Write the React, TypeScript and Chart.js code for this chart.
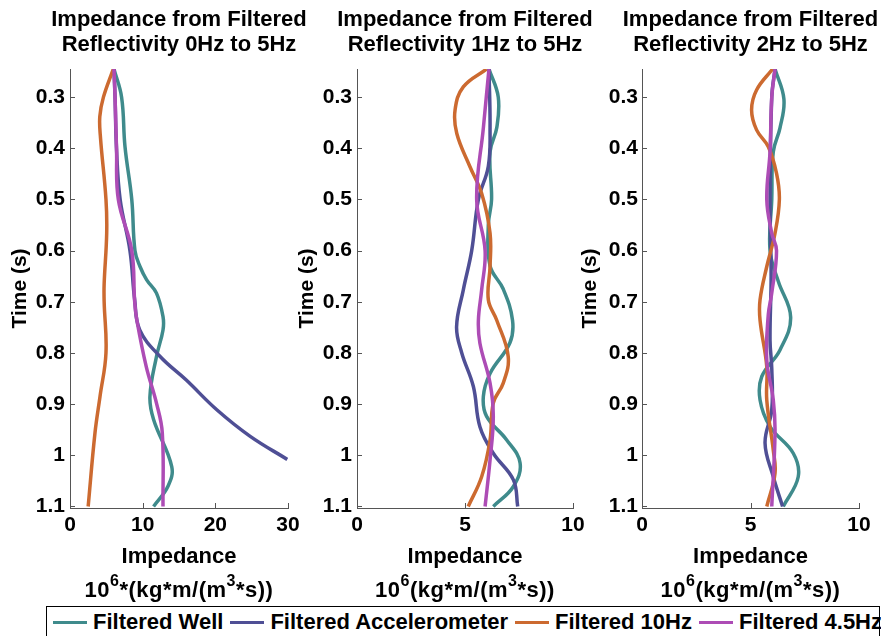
import React, { useEffect, useRef } from "react";
import { Chart, registerables } from "chart.js";

Chart.register(...registerables);

const FONT = '"Liberation Sans", Arial, Helvetica, sans-serif';

const SERIES_NAMES = ["Filtered Well", "Filtered Accelerometer", "Filtered 10Hz", "Filtered 4.5Hz"];
const SERIES_COLORS = ["#3f8b8c", "#4f4f95", "#cc6a30", "#ad4cb5"];

const PANEL_TITLES = [
  ["Impedance from Filtered", "Reflectivity 0Hz to 5Hz"],
  ["Impedance from Filtered", "Reflectivity 1Hz to 5Hz"],
  ["Impedance from Filtered", "Reflectivity 2Hz to 5Hz"],
];
const X_TITLE = "Impedance";
// unit label runs: [text, isSuperscript]
const X_UNIT_P1: [string, boolean][] = [["10", false], ["6", true], ["*(kg*m/(m", false], ["3", true], ["*s))", false]];
const X_UNIT_P23: [string, boolean][] = [["10", false], ["6", true], ["(kg*m/(m", false], ["3", true], ["*s))", false]];
const Y_TITLE = "Time (s)";
const TIME_TICKS = [0.3, 0.4, 0.5, 0.6, 0.7, 0.8, 0.9, 1.0, 1.1];
const X_TICKS_P1 = [0, 10, 20, 30];
const X_TICKS_P23 = [0, 5, 10];
const TIME_MIN = 0.245;
const TIME_MAX = 1.103;

// Panel 1 : 0Hz to 5Hz
const P1_WELL_T = [0.245, 0.3, 0.397, 0.5, 0.6, 0.631, 0.657, 0.683, 0.729, 0.755, 0.807, 0.885, 0.93, 1.022, 1.06, 1.1];
const P1_WELL_V = [6.05, 7.1, 7.57, 8.5, 8.94, 9.63, 10.55, 11.9, 12.8, 12.8, 11.9, 11.0, 11.5, 14.0, 13.5, 11.5];
const P1_ACC_T = [0.245, 0.3, 0.4, 0.5, 0.6, 0.696, 0.755, 0.807, 0.853, 0.911, 0.963, 1.008];
const P1_ACC_V = [6.05, 6.2, 6.4, 6.9, 8.25, 8.9, 9.6, 12.4, 16.0, 20.2, 24.8, 29.9];
const P1_10HZ_T = [0.245, 0.3, 0.338, 0.38, 0.5, 0.566, 0.665, 0.7, 0.8, 0.885, 0.956, 1.1];
const P1_10HZ_V = [5.96, 4.6, 4.1, 4.2, 4.95, 5.05, 4.7, 4.7, 4.95, 4.13, 3.44, 2.5];
const P1_45HZ_T = [0.245, 0.3, 0.4, 0.5, 0.6, 0.7, 0.736, 0.827, 0.898, 0.956, 1.1];
const P1_45HZ_V = [6.05, 6.2, 6.4, 6.65, 8.5, 8.9, 9.2, 10.5, 11.9, 12.7, 12.8];

// Panel 2 : 1Hz to 5Hz
const P2_WELL_T = [0.245, 0.3, 0.36, 0.407, 0.5, 0.55, 0.63, 0.675, 0.736, 0.78, 0.84, 0.885, 0.924, 0.97, 1.015, 1.061, 1.1];
const P2_WELL_V = [6.11, 6.54, 6.47, 6.16, 6.23, 6.08, 6.16, 6.77, 7.2, 7.08, 6.16, 5.85, 6.0, 6.93, 7.55, 7.24, 6.31];
const P2_ACC_T = [0.245, 0.36, 0.435, 0.5, 0.6, 0.677, 0.749, 0.8, 0.866, 0.944, 0.996, 1.048, 1.1];
const P2_ACC_V = [6.11, 6.16, 6.08, 5.62, 5.31, 4.92, 4.61, 4.85, 5.39, 5.69, 6.31, 7.24, 7.44];
const P2_10HZ_T = [0.245, 0.28, 0.325, 0.371, 0.436, 0.488, 0.566, 0.631, 0.696, 0.736, 0.807, 0.859, 0.898, 0.97, 1.042, 1.1];
const P2_10HZ_V = [6.0, 4.92, 4.54, 4.62, 5.23, 5.77, 6.16, 6.16, 6.08, 6.47, 7.0, 6.77, 6.31, 6.16, 5.77, 5.15];
const P2_45HZ_T = [0.245, 0.36, 0.5, 0.6, 0.677, 0.736, 0.781, 0.859, 0.924, 1.009, 1.1];
const P2_45HZ_V = [6.11, 5.85, 5.54, 5.93, 5.77, 5.62, 5.69, 6.16, 6.31, 6.16, 5.93];

// Panel 3 : 2Hz to 5Hz
const P3_WELL_T = [0.245, 0.304, 0.36, 0.407, 0.5, 0.6, 0.66, 0.73, 0.794, 0.846, 0.892, 0.944, 0.996, 1.042, 1.1];
const P3_WELL_V = [6.13, 6.54, 6.36, 6.05, 5.98, 5.9, 6.28, 6.85, 6.36, 5.52, 5.44, 5.9, 6.97, 7.2, 6.51];
const P3_ACC_T = [0.245, 0.3, 0.5, 0.65, 0.775, 0.83, 0.911, 0.976, 1.042, 1.1];
const P3_ACC_V = [6.13, 5.98, 5.9, 5.95, 5.9, 5.98, 5.98, 5.67, 6.05, 6.48];
const P3_10HZ_T = [0.245, 0.286, 0.325, 0.364, 0.397, 0.449, 0.5, 0.566, 0.631, 0.696, 0.736, 0.827, 0.892, 0.99, 1.035, 1.1];
const P3_10HZ_V = [6.02, 5.28, 5.05, 5.28, 5.82, 6.2, 6.33, 6.13, 5.75, 5.44, 5.44, 5.75, 5.75, 6.05, 6.13, 5.75];
const P3_45HZ_T = [0.245, 0.3, 0.407, 0.5, 0.566, 0.6, 0.683, 0.725, 0.814, 0.892, 0.956, 1.1];
const P3_45HZ_V = [6.13, 5.98, 5.9, 5.75, 5.98, 6.2, 5.98, 5.82, 5.75, 6.05, 6.13, 5.98];

type Series = { t: number[]; v: number[] };

const PANELS = [
  {
    left: 0, width: 320, padRight: 32, xMax: 30, xTicks: X_TICKS_P1, unit: X_UNIT_P1, labelPad: 5, titlePad: 8,
    series: [
      { t: P1_WELL_T, v: P1_WELL_V }, { t: P1_ACC_T, v: P1_ACC_V },
      { t: P1_10HZ_T, v: P1_10HZ_V }, { t: P1_45HZ_T, v: P1_45HZ_V },
    ] as Series[],
  },
  {
    left: 287, width: 320, padRight: 34, xMax: 10, xTicks: X_TICKS_P23, unit: X_UNIT_P23, labelPad: 5, titlePad: 8,
    series: [
      { t: P2_WELL_T, v: P2_WELL_V }, { t: P2_ACC_T, v: P2_ACC_V },
      { t: P2_10HZ_T, v: P2_10HZ_V }, { t: P2_45HZ_T, v: P2_45HZ_V },
    ] as Series[],
  },
  {
    left: 572, width: 309, padRight: 22, xMax: 10, xTicks: X_TICKS_P23, unit: X_UNIT_P23, labelPad: 4, titlePad: 6,
    series: [
      { t: P3_WELL_T, v: P3_WELL_V }, { t: P3_ACC_T, v: P3_ACC_V },
      { t: P3_10HZ_T, v: P3_10HZ_V }, { t: P3_45HZ_T, v: P3_45HZ_V },
    ] as Series[],
  },
];

const CANVAS_H = 606;
const AXIS_COLOR = "#555555";

const innerTicks = {
  id: "innerTicks",
  afterDraw(chart: any) {
    const { ctx, chartArea, scales } = chart;
    ctx.save();
    ctx.strokeStyle = AXIS_COLOR;
    ctx.lineWidth = 1;
    for (const tk of scales.y.ticks) {
      const py = Math.round(scales.y.getPixelForValue(tk.value)) + 0.5;
      ctx.beginPath();
      ctx.moveTo(chartArea.left, py);
      ctx.lineTo(chartArea.left + 5, py);
      ctx.stroke();
    }
    for (const tk of scales.x.ticks) {
      const px = Math.round(scales.x.getPixelForValue(tk.value)) + 0.5;
      ctx.beginPath();
      ctx.moveTo(px, chartArea.bottom);
      ctx.lineTo(px, chartArea.bottom - 5);
      ctx.stroke();
    }
    ctx.restore();
  },
};

function makeTextPlugin(titleLines: string[], unitRuns: [string, boolean][]) {
  return {
    id: "panelText",
    afterDraw(chart: any) {
      const { ctx, chartArea } = chart;
      const cx = (chartArea.left + chartArea.right) / 2;
      ctx.save();
      ctx.fillStyle = "#000";
      ctx.textBaseline = "alphabetic";
      ctx.textAlign = "left";
      // panel title, centred on the plot area
      ctx.font = `bold 22px ${FONT}`;
      const titleBase = [26, 51];
      titleLines.forEach((line, i) => {
        const w = ctx.measureText(line).width;
        ctx.fillText(line, cx - w / 2, titleBase[i]);
      });
      // x axis title
      const w1 = ctx.measureText(X_TITLE).width;
      ctx.fillText(X_TITLE, cx - w1 / 2, chartArea.bottom + 55);
      // unit line with superscripts
      const base = chartArea.bottom + 89;
      if ("letterSpacing" in ctx) (ctx as any).letterSpacing = "0.5px";
      const widths = unitRuns.map(([txt, sup]) => {
        ctx.font = sup ? `bold 16px ${FONT}` : `bold 22px ${FONT}`;
        return ctx.measureText(txt).width;
      });
      const total = widths.reduce((a, b) => a + b, 0);
      let x = cx - total / 2;
      unitRuns.forEach(([txt, sup], i) => {
        ctx.font = sup ? `bold 16px ${FONT}` : `bold 22px ${FONT}`;
        ctx.fillText(txt, x, sup ? base - 11 : base);
        x += widths[i];
      });
      ctx.restore();
    },
  };
}

function Panel({ index }: { index: number }) {
  const ref = useRef<HTMLCanvasElement | null>(null);
  const p = PANELS[index];
  useEffect(() => {
    if (!ref.current) return;
    const datasets = p.series.map((s, i) => ({
      label: SERIES_NAMES[i],
      data: s.t.map((t, j) => ({ x: s.v[j], y: t })),
      borderColor: SERIES_COLORS[i],
      backgroundColor: SERIES_COLORS[i],
      borderWidth: 3.5,
      pointRadius: 0,
      tension: 0.4,
      fill: false,
      order: 4 - i,
    }));
    const chart = new Chart(ref.current, {
      type: "line",
      data: { datasets },
      plugins: [innerTicks, makeTextPlugin(PANEL_TITLES[index], p.unit)],
      options: {
        animation: false,
        responsive: false,
        devicePixelRatio: 1,
        indexAxis: "y",
        layout: { padding: { top: 69, right: p.padRight, bottom: 0, left: 0 } },
        plugins: {
          legend: { display: false },
          tooltip: { enabled: false },
          title: { display: false },
        },
        scales: {
          x: {
            type: "linear",
            position: "bottom",
            min: 0,
            max: p.xMax,
            afterBuildTicks: (s: any) => {
              s.ticks = p.xTicks.map((v) => ({ value: v }));
            },
            afterFit: (s: any) => {
              s.height = 98;
            },
            grid: { display: false, drawTicks: false },
            border: { display: true, color: AXIS_COLOR, width: 1 },
            ticks: {
              padding: 5,
              color: "#000",
              font: { family: FONT, size: 21, weight: "bold" },
              callback: (v: any) => String(v),
            },
            title: { display: false },
          },
          y: {
            type: "linear",
            position: "left",
            reverse: true,
            min: TIME_MIN,
            max: TIME_MAX,
            afterBuildTicks: (s: any) => {
              s.ticks = TIME_TICKS.map((v) => ({ value: v }));
            },
            afterFit: (s: any) => {
              s.width = 70;
            },
            grid: { display: false, drawTicks: false },
            border: { display: true, color: AXIS_COLOR, width: 1 },
            ticks: {
              padding: p.labelPad,
              color: "#000",
              font: { family: FONT, size: 21, weight: "bold" },
              callback: (v: any) => String(Number(Number(v).toFixed(1))),
            },
            title: {
              display: true,
              text: Y_TITLE,
              color: "#000",
              font: { family: FONT, size: 21, weight: "bold", lineHeight: 1.2 },
              padding: { top: p.titlePad, bottom: 0 },
            },
          },
        },
      } as any,
    });
    return () => chart.destroy();
  }, [index]);
  return (
    <canvas
      ref={ref}
      width={p.width}
      height={CANVAS_H}
      style={{ position: "absolute", left: p.left, top: 0, width: p.width, height: CANVAS_H }}
    />
  );
}

export default function App() {
  return (
    <div
      style={{
        position: "fixed",
        left: 0,
        top: 0,
        width: 881,
        height: 636,
        overflow: "hidden",
        background: "#fff",
      }}
    >
      {PANELS.map((_, i) => (
        <Panel key={i} index={i} />
      ))}
      <div
        style={{
          position: "absolute",
          left: 46,
          top: 606,
          width: 834,
          height: 44,
          border: "1px solid #000",
          boxSizing: "border-box",
          paddingLeft: 6,
        }}
      >
        <div style={{ display: "flex", alignItems: "center", height: 30 }}>
          {SERIES_NAMES.map((name, i) => (
            <div key={name} style={{ display: "flex", alignItems: "center", marginRight: 7 }}>
              <span
                style={{ display: "inline-block", width: 34, height: 3, background: SERIES_COLORS[i], marginRight: 6 }}
              />
              <span
                style={{
                  fontFamily: FONT,
                  fontWeight: "bold",
                  fontSize: 22,
                  lineHeight: 1,
                  whiteSpace: "nowrap",
                  color: "#000",
                }}
              >
                {name}
              </span>
            </div>
          ))}
        </div>
      </div>
    </div>
  );
}
